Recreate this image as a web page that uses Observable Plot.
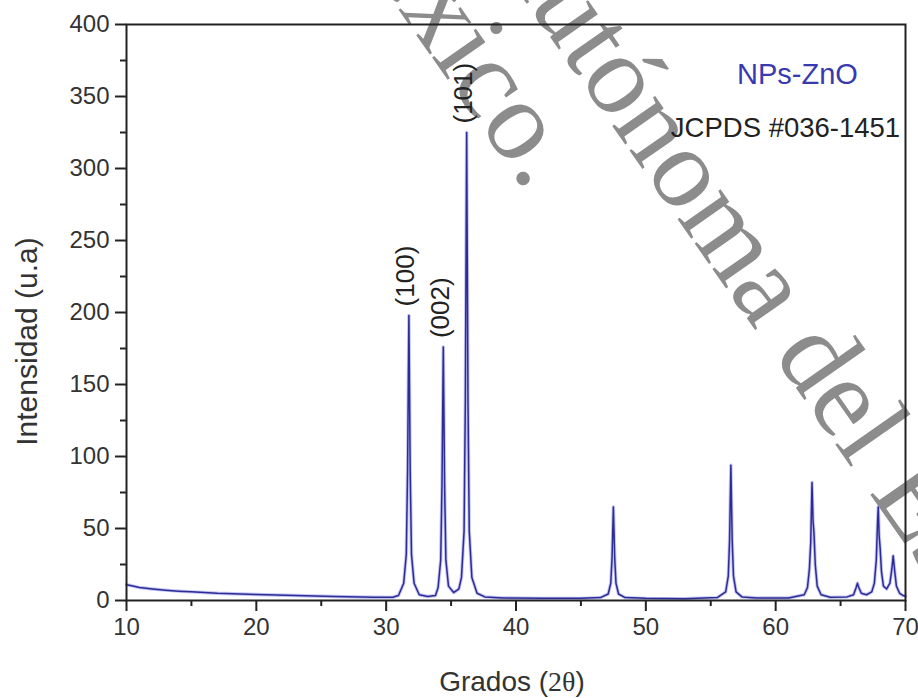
<!DOCTYPE html>
<html>
<head>
<meta charset="utf-8">
<script src="https://cdn.jsdelivr.net/npm/d3@7"></script>
<script src="https://cdn.jsdelivr.net/npm/@observablehq/plot@0.6"></script>
<style>
  body { margin: 0; background: #fff; }
  #wrap { position: relative; width: 918px; height: 698px; overflow: hidden; background: #fff; }
  #wm { position: absolute; left: 0; top: 0; }
  #chart { position: absolute; left: 0; top: 0; }
</style>
</head>
<body>
<div id="wrap"><svg id="wm" width="918" height="698"></svg><div id="chart"></div></div>
<script>
// ---- data ----
const twoTheta = [
  10.0, 10.5, 11, 12, 13, 14, 15, 17, 20, 23, 26, 29, 30.5,
  30.95, 31.35, 31.55, 31.65, 31.75, 31.85, 31.95, 32.15, 32.55, 33.2, 33.8,
  34.0, 34.2, 34.3, 34.4, 34.5, 34.6, 34.8, 35.2, 35.6,
  35.8, 36.0, 36.1, 36.2, 36.3, 36.4, 36.6, 37.0, 37.6, 39, 42, 45, 46.5,
  47.1, 47.3, 47.4, 47.5, 47.6, 47.7, 47.9, 48.4, 50, 53, 55.5,
  56.15, 56.35, 56.45, 56.55, 56.65, 56.75, 56.95, 57.4, 58.5, 61, 62.2,
  62.45, 62.6, 62.7, 62.8, 62.88, 62.95, 63.05, 63.2, 63.5, 64.2, 65.5, 66.0,
  66.2, 66.3, 66.4, 66.6, 67.0, 67.4,
  67.6, 67.75, 67.85, 67.9, 67.97, 68.05, 68.15, 68.3, 68.55, 68.8,
  68.95, 69.05, 69.15, 69.3, 69.55, 69.8, 70.0
];
const intensity = [
  11, 10, 9, 8, 7.2, 6.5, 6, 5, 4.2, 3.5, 2.8, 2.3, 2.2,
  3.5, 12, 32, 90, 198, 90, 32, 12, 4, 2.8, 3.5,
  9, 28, 80, 176, 80, 28, 10, 5.5, 8,
  16, 48, 140, 325, 140, 48, 16, 5, 2.5, 1.8, 1.5, 1.5, 2,
  4.5, 12, 30, 65, 30, 12, 4.5, 2, 1.5, 1.3, 2,
  6, 17, 42, 94, 42, 17, 6, 2.5, 1.8, 1.8, 4,
  9, 22, 40, 82, 55, 47, 25, 10, 4, 2.2, 2.5, 4,
  9, 12, 9, 5, 4, 6,
  12, 28, 55, 65, 45, 36, 20, 10, 8, 12,
  22, 31, 22, 10, 5, 3.5, 3
];
const xTicks = [10, 20, 30, 40, 50, 60, 70];
const xMinor = [15, 25, 35, 45, 55, 65];
const yTicks = [0, 50, 100, 150, 200, 250, 300, 350, 400];
const yMinor = [25, 75, 125, 175, 225, 275, 325, 375];
const hklLabels = ["(100)", "(002)", "(101)"];
const hklPos = [31.75, 34.4, 36.2];
const hklTop = [198, 176, 325];
const sampleName = "NPs-ZnO";
const refCard = "JCPDS #036-1451";
const xTitleMain = "Grados (";
const xTitleSym = "2θ";
const xTitleEnd = ")";
const yTitle = "Intensidad (u.a)";
const watermarkLines = ["Autónoma del Estado de", "México."];

// ---- build ----
const pattern = twoTheta.map((x, i) => ({x, y: intensity[i]}));
const peaks = hklLabels.map((t, i) => ({t, x: hklPos[i], y: hklTop[i]}));
const font = "'Liberation Sans', Arial, sans-serif";

const chart = Plot.plot({
  width: 918,
  height: 698,
  marginLeft: 126,
  marginRight: 13,
  marginTop: 24,
  marginBottom: 98,
  style: {background: "transparent", fontFamily: font, fontSize: "24px", color: "#333"},
  x: {domain: [10, 70]},
  y: {domain: [0, 400]},
  marks: [
    Plot.lineY(pattern, {x: "x", y: "y", stroke: "#8a8ae8", strokeWidth: 3.4, strokeOpacity: 0.5}),
    Plot.lineY(pattern, {x: "x", y: "y", stroke: "#2c2c95", strokeWidth: 1.5}),
    Plot.axisX({ticks: xTicks, tickSize: 11, tickPadding: 6, tickFormat: d => String(d), label: null, fontSize: 24, stroke: "#222", strokeWidth: 2, fill: "#333"}),
    Plot.axisX({ticks: xMinor, tickSize: 6, tickFormat: () => "", label: null, stroke: "#222", strokeWidth: 2}),
    Plot.axisY({ticks: yTicks, tickSize: 11, tickPadding: 6, tickFormat: d => String(d), label: null, fontSize: 24, stroke: "#222", strokeWidth: 2, fill: "#333"}),
    Plot.axisY({ticks: yMinor, tickSize: 6, tickFormat: () => "", label: null, stroke: "#222", strokeWidth: 2}),
    Plot.frame({stroke: "#222", strokeWidth: 2}),
    Plot.text(peaks, {x: "x", y: "y", text: "t", rotate: -90, textAnchor: "start", lineAnchor: "middle", dx: -3, dy: -9, fontSize: 26, fill: "#222"}),
    Plot.text([sampleName], {frameAnchor: "top-right", textAnchor: "middle", lineAnchor: "middle", dx: -108, dy: 50, fontSize: 29, fill: "#3a3ab0"}),
    Plot.text([refCard], {frameAnchor: "top-right", textAnchor: "middle", lineAnchor: "middle", dx: -120, dy: 104, fontSize: 27.5, fill: "#222"}),
    Plot.text([yTitle], {frameAnchor: "left", textAnchor: "middle", lineAnchor: "middle", rotate: -90, dx: -99, dy: 29, fontSize: 30, fill: "#333"}),
    Plot.text([xTitleMain], {frameAnchor: "bottom", textAnchor: "middle", lineAnchor: "middle", dx: -4, dy: 82, fontSize: 28, fill: "#333", className: "xtitle"})
  ]
});
document.getElementById("chart").appendChild(chart);

// x title with serif "2θ"
const xt = d3.select(chart).select(".xtitle text");
xt.text(null);
xt.append("tspan").text(xTitleMain);
xt.append("tspan").style("font-family", "'Liberation Serif', 'Times New Roman', serif").text(xTitleSym);
xt.append("tspan").text(xTitleEnd);

// watermark (behind the chart)
const wm = d3.select("#wm");
wm.append("text")
  .attr("transform", "translate(480,-63) rotate(55)")
  .attr("text-anchor", "start")
  .style("font-family", "'Liberation Serif', 'Times New Roman', serif")
  .style("font-size", "114px")
  .attr("fill", "#8c8c8c")
  .text(watermarkLines[0]);
wm.append("text")
  .attr("transform", "translate(527,193) rotate(55)")
  .attr("text-anchor", "end")
  .style("font-family", "'Liberation Serif', 'Times New Roman', serif")
  .style("font-size", "114px")
  .attr("fill", "#8c8c8c")
  .text(watermarkLines[1]);
</script>
</body>
</html>
